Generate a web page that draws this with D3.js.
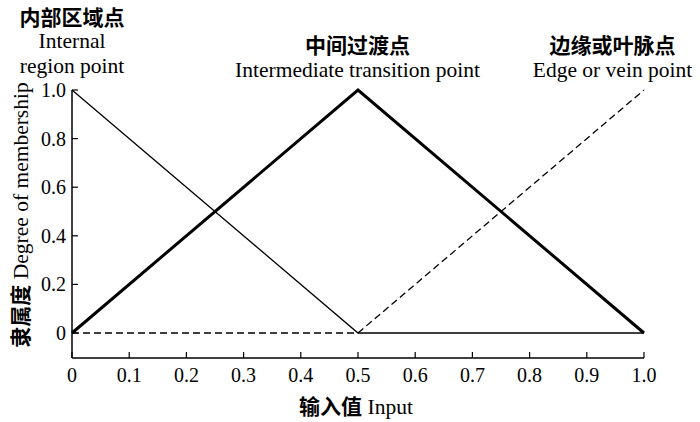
<!DOCTYPE html>
<html><head><meta charset="utf-8">
<script src="https://cdn.jsdelivr.net/npm/d3@7"></script>
<style>body{margin:0;background:#fff}svg{display:block}</style>
</head><body>
<script>
const xTicks = [0,0.1,0.2,0.3,0.4,0.5,0.6,0.7,0.8,0.9,1.0];
const yTicks = [0,0.2,0.4,0.6,0.8,1.0];
const internalX = [0,0.5,1.0];
const internalY = [1,0,0];
const intermediateX = [0,0.5,1.0];
const intermediateY = [0,1,0];
const edgeX = [0,0.5,1.0];
const edgeY = [0,0,1];
const seriesLabelsZh = ["内部区域点","中间过渡点","边缘或叶脉点"];
const seriesLabelsEn = [["Internal","region point"],["Intermediate transition point"],["Edge or vein point"]];

const W=700,H=422;
const svg=d3.select("body").append("svg").attr("width",W).attr("height",H);
const x=d3.scaleLinear().domain([0,1]).range([72,644]);
const y=d3.scaleLinear().domain([0,1]).range([333,90]);
const serif="'Liberation Serif','Times New Roman',serif";
const cjk="'Noto Sans CJK SC',sans-serif";
const fmt=t=>t===1?"1.0":(t===0?"0":String(t));

// axes
const axisY=358;
svg.append("line").attr("x1",x(0)).attr("x2",x(1)).attr("y1",axisY).attr("y2",axisY).attr("stroke","#000").attr("stroke-width",1.5);
svg.append("line").attr("x1",x(0)).attr("x2",x(0)).attr("y1",axisY).attr("y2",y(1)).attr("stroke","#000").attr("stroke-width",1.5);
xTicks.forEach(t=>{
  svg.append("line").attr("x1",x(t)).attr("x2",x(t)).attr("y1",axisY).attr("y2",axisY-6).attr("stroke","#000").attr("stroke-width",1.2);
  svg.append("text").attr("x",x(t)).attr("y",382).attr("text-anchor","middle").attr("font-family",serif).attr("font-size",20).text(fmt(t));
});
yTicks.forEach(t=>{
  svg.append("line").attr("x1",x(0)).attr("x2",x(0)+6).attr("y1",y(t)).attr("y2",y(t)).attr("stroke","#000").attr("stroke-width",1.2);
  svg.append("text").attr("x",x(0)-6).attr("y",y(t)+7).attr("text-anchor","end").attr("font-family",serif).attr("font-size",20).text(fmt(t));
});

const line=d3.line().x(d=>x(d[0])).y(d=>y(d[1]));
svg.append("path").attr("d",line(internalX.map((v,i)=>[v,internalY[i]]))).attr("fill","none").attr("stroke","#000").attr("stroke-width",1.3);
svg.append("path").attr("d",line(edgeX.map((v,i)=>[v,edgeY[i]]))).attr("fill","none").attr("stroke","#000").attr("stroke-width",1.3).attr("stroke-dasharray","7,4");
svg.append("path").attr("d",line(intermediateX.map((v,i)=>[v,intermediateY[i]]))).attr("fill","none").attr("stroke","#000").attr("stroke-width",3).attr("stroke-linejoin","miter");

// series labels
const lab=[{cx:72,zy:25,ey:[48,73]},{cx:357.5,zy:53,ey:[77]},{cx:612.5,zy:53,ey:[77]}];
lab.forEach((l,i)=>{
  svg.append("text").attr("x",l.cx).attr("y",l.zy).attr("text-anchor","middle").attr("font-family",cjk).attr("font-weight","bold").attr("font-size",21).text(seriesLabelsZh[i]);
  seriesLabelsEn[i].forEach((s,j)=>{
    svg.append("text").attr("x",l.cx).attr("y",l.ey[j]).attr("text-anchor","middle").attr("font-family",serif).attr("font-size",21.5).text(s);
  });
});

// axis titles
const xt=svg.append("text").attr("x",356).attr("y",414).attr("text-anchor","middle").attr("font-size",21);
xt.append("tspan").attr("font-family",cjk).attr("font-weight","bold").text("输入值");
xt.append("tspan").attr("font-family",serif).attr("font-size",21.5).text(" Input");
const yt=svg.append("text").attr("transform","translate(28,215) rotate(-90)").attr("text-anchor","middle").attr("font-size",21);
yt.append("tspan").attr("font-family",cjk).attr("font-weight","bold").text("隶属度");
yt.append("tspan").attr("font-family",serif).attr("font-size",21.5).text(" Degree of membership");
</script>
</body></html>
